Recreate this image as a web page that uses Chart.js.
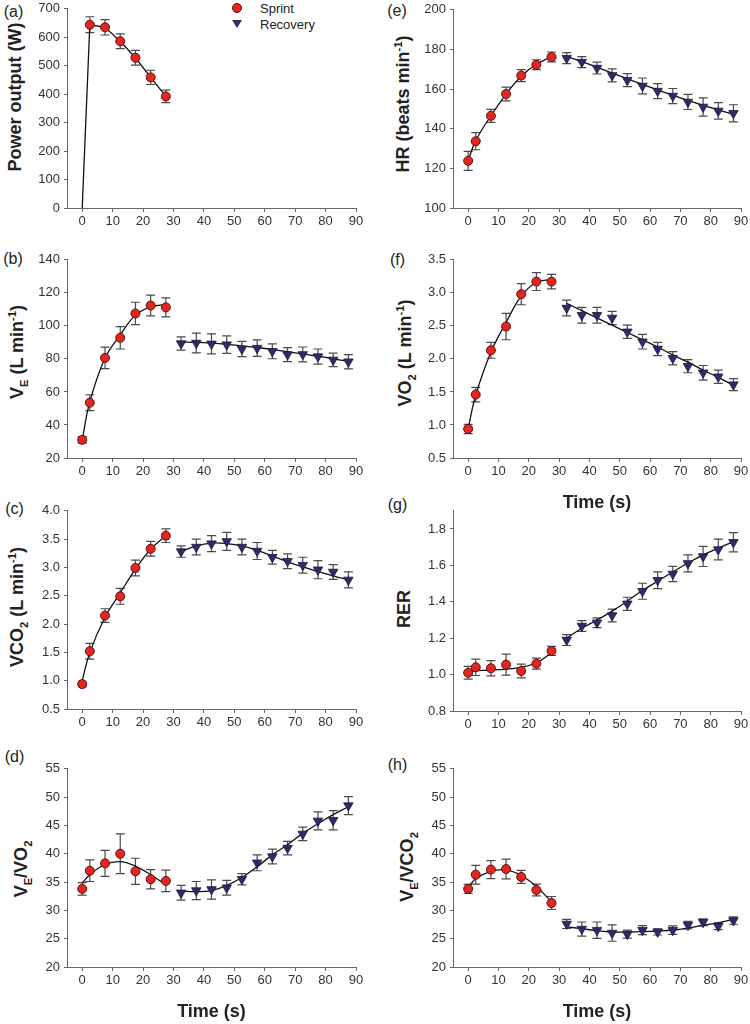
<!DOCTYPE html>
<html>
<head>
<meta charset="utf-8">
<title>Sprint and recovery responses</title>
<script src="https://cdn.jsdelivr.net/npm/chart.js@4.4.0/dist/chart.umd.min.js"></script>
<style>
  body { margin: 0; background: #fff; }
  #page { position: relative; width: 750px; height: 1024px; overflow: hidden;
          font-family: "Liberation Sans", Arial, sans-serif; color: #222; }
  #page canvas { position: absolute; }
  .ytitle { position: absolute; font-weight: bold; font-size: 18px; white-space: nowrap; line-height: 1;
            transform: translate(-50%, -50%) rotate(-90deg); }
  .ytitle sub, .ytitle sup { font-size: 62%; line-height: 0; }
  .tag { position: absolute; font-size: 16px; line-height: 1; transform: translate(-50%, -50%); }
  .key { position: absolute; font-size: 13px; line-height: 15px; }
  .dot { position: absolute; width: 8px; height: 8px; border-radius: 50%; background: #e3261f; border: 1px solid #5c1010; }
  .tri { position: absolute; width: 0; height: 0; border-left: 5px solid transparent;
         border-right: 5px solid transparent; border-top: 8px solid #2b2c6b; }
</style>
</head>
<body>
<div id="page">
  <div class="tag" style="left:13.5px; top:11.5px">(a)</div>
  <div class="tag" style="left:13px; top:258.5px">(b)</div>
  <div class="tag" style="left:14.5px; top:508.5px">(c)</div>
  <div class="tag" style="left:14.5px; top:756.5px">(d)</div>
  <div class="tag" style="left:397px; top:10.5px">(e)</div>
  <div class="tag" style="left:397.5px; top:260px">(f)</div>
  <div class="tag" style="left:397.5px; top:505px">(g)</div>
  <div class="tag" style="left:397.5px; top:764.5px">(h)</div>

  <div class="ytitle" style="left:15px; top:97px">Power output (W)</div>
  <div class="ytitle" style="left:17px; top:352px">V<sub>E</sub> (L min<sup>-1</sup>)</div>
  <div class="ytitle" style="left:17px; top:607px">VCO<sub>2</sub> (L min<sup>-1</sup>)</div>
  <div class="ytitle" style="left:21px; top:869px">V<sub>E</sub>/VO<sub>2</sub></div>
  <div class="ytitle" style="left:403px; top:104px">HR (beats min<sup>-1</sup>)</div>
  <div class="ytitle" style="left:405px; top:353px">VO<sub>2</sub> (L min<sup>-1</sup>)</div>
  <div class="ytitle" style="left:404px; top:609px">RER</div>
  <div class="ytitle" style="left:407px; top:867px">V<sub>E</sub>/VCO<sub>2</sub></div>

  <span class="dot" style="left:232px; top:2.5px"></span>
  <span class="key" style="left:260px; top:0.5px">Sprint</span>
  <span class="tri" style="left:232px; top:20px"></span>
  <span class="key" style="left:260px; top:16.5px">Recovery</span>
</div>

<script>
Chart.defaults.font.family = '"Liberation Sans", Arial, sans-serif';
Chart.defaults.color = '#222';

// time points (s)
const sprintTime = [0, 2.5, 7.5, 12.5, 17.5, 22.5, 27.5];
const recoveryTime = [32.5, 37.5, 42.5, 47.5, 52.5, 57.5, 62.5, 67.5, 72.5, 77.5, 82.5, 87.5];
const timeTicks = [0, 10, 20, 30, 40, 50, 60, 70, 80, 90];

// (a) power output
const powerTime = [2.5, 7.5, 12.5, 17.5, 22.5, 27.5];
const powerMean = [644, 635, 586, 528, 459, 392];
const powerErr = [28, 27, 26, 26, 25, 22];
const powerLineTime = [0, 2.5, 7.5, 12.5, 17.5, 22.5, 27.5];
const powerLine = [0, 644, 635, 586, 528, 459, 392];
const powerTicks = [0, 100, 200, 300, 400, 500, 600, 700];

// (b) VE
const veSprint = [31, 53.5, 80.6, 92.8, 107.5, 112.3, 111.2];
const veSprintErr = [2, 4.8, 6.5, 6.8, 6.8, 6.3, 5.8];
const veRecovery = [89.3, 89.6, 89.1, 88.6, 86.0, 86.5, 84.6, 82.6, 82.7, 81.4, 79.4, 78.3];
const veRecoveryErr = [4, 6, 6, 5.3, 4.6, 5, 4.5, 4.2, 4.5, 4.6, 4.1, 4.3];
const veSprintFit = [31, 54, 80.5, 94.5, 106.5, 111.5, 113];
const veRecoveryFit = [90.3, 90.0, 89.5, 88.8, 87.9, 86.9, 85.7, 84.4, 83.0, 81.6, 80.1, 78.5];
const veTicks = [20, 40, 60, 80, 100, 120, 140];

// (c) VCO2
const vco2Sprint = [0.94, 1.52, 2.15, 2.49, 2.99, 3.33, 3.56];
const vco2SprintErr = [0.05, 0.14, 0.12, 0.14, 0.14, 0.13, 0.12];
const vco2Recovery = [3.28, 3.36, 3.42, 3.46, 3.36, 3.29, 3.18, 3.11, 3.04, 2.96, 2.92, 2.78];
const vco2RecoveryErr = [0.10, 0.14, 0.14, 0.16, 0.14, 0.15, 0.12, 0.13, 0.14, 0.16, 0.13, 0.14];
const vco2SprintFit = [1.0, 1.5, 2.12, 2.55, 2.97, 3.32, 3.56];
const vco2RecoveryFit = [3.28, 3.38, 3.43, 3.42, 3.38, 3.30, 3.20, 3.10, 3.01, 2.93, 2.85, 2.78];
const litreTicks4 = [0.5, 1.0, 1.5, 2.0, 2.5, 3.0, 3.5, 4.0];

// (d) VE/VO2
const veVo2Sprint = [33.8, 37.0, 38.3, 40.0, 36.9, 35.5, 35.2];
const veVo2SprintErr = [1.1, 1.9, 2.3, 3.5, 2.3, 1.7, 1.9];
const veVo2Recovery = [33.1, 33.5, 33.7, 34.0, 35.5, 38.4, 39.5, 41.0, 43.5, 45.8, 45.9, 48.5];
const veVo2RecoveryErr = [1.3, 1.6, 1.7, 1.3, 1.0, 1.4, 1.3, 1.2, 1.2, 1.6, 1.7, 1.6];
const veVo2SprintFit = [34.8, 36.3, 38.1, 38.6, 37.8, 36.3, 34.5];
const veVo2RecoveryFit = [33.4, 33.3, 33.5, 34.4, 35.8, 37.7, 39.8, 41.6, 43.6, 45.3, 46.9, 48.3];
const ratioTicks = [20, 25, 30, 35, 40, 45, 50, 55];

// (e) HR
const hrSprint = [123.8, 133.7, 146.5, 157.5, 166.8, 172.3, 176.2];
const hrSprintErr = [4.8, 4.3, 3.3, 3.5, 3, 2.5, 2.5];
const hrRecovery = [175.6, 173.6, 170.6, 166.9, 164.5, 161.6, 159.0, 156.5, 153.5, 151.0, 149.0, 147.8];
const hrRecoveryErr = [2.8, 2.8, 3, 3.3, 3.3, 4, 3.8, 3.8, 3.8, 4.6, 4.2, 4.3];
const hrSprintFit = [124, 134, 146.5, 157.5, 166.5, 172.5, 176.3];
const hrRecoveryFit = [176.4, 173.8, 171.0, 168.1, 165.2, 162.4, 159.6, 156.9, 154.3, 151.8, 149.5, 147.3];
const hrTicks = [100, 120, 140, 160, 180, 200];

// (f) VO2
const vo2Sprint = [0.94, 1.46, 2.13, 2.49, 2.98, 3.17, 3.17];
const vo2SprintErr = [0.07, 0.11, 0.12, 0.2, 0.16, 0.135, 0.11];
const vo2Recovery = [2.77, 2.66, 2.66, 2.62, 2.41, 2.26, 2.15, 2.01, 1.89, 1.79, 1.73, 1.61];
const vo2RecoveryErr = [0.12, 0.12, 0.12, 0.1, 0.1, 0.11, 0.1, 0.1, 0.1, 0.11, 0.1, 0.09];
const vo2SprintFit = [0.95, 1.45, 2.1, 2.55, 2.95, 3.16, 3.2];
const vo2RecoveryFit = [2.84, 2.73, 2.62, 2.51, 2.40, 2.29, 2.18, 2.06, 1.95, 1.83, 1.72, 1.60];
const litreTicks35 = [0.5, 1.0, 1.5, 2.0, 2.5, 3.0, 3.5];

// (g) RER
const rerSprint = [1.01, 1.04, 1.035, 1.055, 1.02, 1.06, 1.13];
const rerSprintErr = [0.035, 0.045, 0.042, 0.058, 0.038, 0.03, 0.025];
const rerRecovery = [1.19, 1.267, 1.285, 1.325, 1.389, 1.458, 1.518, 1.553, 1.611, 1.649, 1.687, 1.727];
const rerRecoveryErr = [0.03, 0.03, 0.027, 0.035, 0.036, 0.044, 0.046, 0.042, 0.047, 0.055, 0.057, 0.053];
const rerSprintFit = [1.02, 1.022, 1.025, 1.03, 1.04, 1.065, 1.12];
const rerRecoveryFit = [1.20, 1.255, 1.30, 1.349, 1.404, 1.462, 1.513, 1.564, 1.613, 1.658, 1.695, 1.731];
const rerTicks = [0.8, 1.0, 1.2, 1.4, 1.6, 1.8];

// (h) VE/VCO2
const veVco2Sprint = [33.8, 36.3, 37.2, 37.3, 35.9, 33.6, 31.3];
const veVco2SprintErr = [0.8, 1.65, 1.6, 1.75, 1.15, 1.05, 1.15];
const veVco2Recovery = [27.6, 26.7, 26.5, 26.0, 25.8, 26.5, 26.2, 26.5, 27.4, 27.9, 27.2, 28.2];
const veVco2RecoveryErr = [0.8, 1.25, 1.45, 1.45, 0.7, 0.8, 0.55, 0.75, 0.65, 0.6, 0.6, 0.65];
const veVco2SprintFit = [34.1, 35.6, 36.9, 37.15, 36.15, 34.2, 31.5];
const veVco2RecoveryFit = [27.1, 26.76, 26.41, 26.18, 26.18, 26.24, 26.35, 26.53, 26.88, 27.35, 27.81, 28.4];

// layout
const LEFT_COL = { left: 67, right: 356 };
const RIGHT_COL = { left: 453, right: 741 };
const Y_AXIS_W = 45, PAD_T = 10, PAD_R = 14, PAD_B = 2;
const RED = '#e3261f', RED_EDGE = '#5c1010', NAVY = '#2b2c6b';

// error bars, drawn under the markers
const errorBars = {
  id: 'errorBars',
  beforeDatasetsDraw(chart) {
    const { ctx, scales: { x, y } } = chart;
    ctx.save();
    ctx.strokeStyle = '#4a4a4a';
    ctx.lineWidth = 1.2;
    chart.data.datasets.forEach(ds => {
      if (!ds.errors) return;
      ds.data.forEach((p, i) => {
        const px = x.getPixelForValue(p.x);
        const top = y.getPixelForValue(p.y + ds.errors[i]);
        const bot = y.getPixelForValue(p.y - ds.errors[i]);
        ctx.beginPath();
        ctx.moveTo(px, top); ctx.lineTo(px, bot);
        ctx.moveTo(px - 4.5, top); ctx.lineTo(px + 4.5, top);
        ctx.moveTo(px - 4.5, bot); ctx.lineTo(px + 4.5, bot);
        ctx.stroke();
      });
    });
    ctx.restore();
  }
};

const points = (times, values) => times.map((t, i) => ({ x: t, y: values[i] }));

const panels = [
  { col: LEFT_COL, top: 7, bottom: 208, min: 0, max: 700, ticks: powerTicks, dec: 0,
    sprint: [powerTime, powerMean, powerErr],
    lines: [[powerLineTime, powerLine, 0]] },
  { col: LEFT_COL, top: 258, bottom: 458, min: 20, max: 140, ticks: veTicks, dec: 0,
    sprint: [sprintTime, veSprint, veSprintErr], recovery: [recoveryTime, veRecovery, veRecoveryErr],
    lines: [[sprintTime, veSprintFit], [recoveryTime, veRecoveryFit]] },
  { col: LEFT_COL, top: 509, bottom: 709, min: 0.5, max: 4.0, ticks: litreTicks4, dec: 1,
    sprint: [sprintTime, vco2Sprint, vco2SprintErr], recovery: [recoveryTime, vco2Recovery, vco2RecoveryErr],
    lines: [[sprintTime, vco2SprintFit], [recoveryTime, vco2RecoveryFit]] },
  { col: LEFT_COL, top: 767, bottom: 967, min: 20, max: 55, ticks: ratioTicks, dec: 0, timeTitle: true,
    sprint: [sprintTime, veVo2Sprint, veVo2SprintErr], recovery: [recoveryTime, veVo2Recovery, veVo2RecoveryErr],
    lines: [[sprintTime, veVo2SprintFit], [recoveryTime, veVo2RecoveryFit]] },
  { col: RIGHT_COL, top: 8, bottom: 208, min: 100, max: 200, ticks: hrTicks, dec: 0,
    sprint: [sprintTime, hrSprint, hrSprintErr], recovery: [recoveryTime, hrRecovery, hrRecoveryErr],
    lines: [[sprintTime, hrSprintFit], [recoveryTime, hrRecoveryFit]] },
  { col: RIGHT_COL, top: 258, bottom: 458, min: 0.5, max: 3.5, ticks: litreTicks35, dec: 1, timeTitle: true,
    sprint: [sprintTime, vo2Sprint, vo2SprintErr], recovery: [recoveryTime, vo2Recovery, vo2RecoveryErr],
    lines: [[sprintTime, vo2SprintFit], [recoveryTime, vo2RecoveryFit]] },
  { col: RIGHT_COL, top: 509, bottom: 711, min: 0.8, max: 1.9, ticks: rerTicks, dec: 1,
    sprint: [sprintTime, rerSprint, rerSprintErr], recovery: [recoveryTime, rerRecovery, rerRecoveryErr],
    lines: [[sprintTime, rerSprintFit], [recoveryTime, rerRecoveryFit]] },
  { col: RIGHT_COL, top: 767, bottom: 967, min: 20, max: 55, ticks: ratioTicks, dec: 0, timeTitle: true,
    sprint: [sprintTime, veVco2Sprint, veVco2SprintErr], recovery: [recoveryTime, veVco2Recovery, veVco2RecoveryErr],
    lines: [[sprintTime, veVco2SprintFit], [recoveryTime, veVco2RecoveryFit]] }
];

function makePanel(p) {
  const xAxisH = p.timeTitle ? 56 : 24;
  const canvas = document.createElement('canvas');
  canvas.width = Y_AXIS_W + (p.col.right - p.col.left) + PAD_R;
  canvas.height = PAD_T + (p.bottom - p.top) + xAxisH + PAD_B;
  canvas.style.left = (p.col.left - Y_AXIS_W) + 'px';
  canvas.style.top = (p.top - PAD_T) + 'px';
  canvas.style.width = canvas.width + 'px';
  canvas.style.height = canvas.height + 'px';
  document.getElementById('page').appendChild(canvas);

  const datasets = [];
  if (p.sprint) datasets.push({
    data: points(p.sprint[0], p.sprint[1]), errors: p.sprint[2], showLine: false,
    pointStyle: 'circle', pointRadius: 4.5, pointBackgroundColor: RED,
    pointBorderColor: RED_EDGE, pointBorderWidth: 1
  });
  if (p.recovery) datasets.push({
    data: points(p.recovery[0], p.recovery[1]), errors: p.recovery[2], showLine: false,
    pointStyle: 'triangle', pointRotation: 180, pointRadius: 5.5, pointBackgroundColor: NAVY,
    pointBorderColor: '#1a1a40', pointBorderWidth: 0.8
  });
  p.lines.forEach(l => datasets.push({
    data: points(l[0], l[1]), showLine: true, pointRadius: 0,
    borderColor: '#111', borderWidth: 1.3, tension: l[2] === 0 ? 0 : 0.4, fill: false
  }));

  new Chart(canvas, {
    type: 'scatter',
    data: { datasets },
    plugins: [errorBars],
    options: {
      responsive: false, animation: false, devicePixelRatio: 1, events: [],
      layout: { padding: { top: PAD_T, right: PAD_R, bottom: PAD_B, left: 0 } },
      plugins: { legend: { display: false }, tooltip: { enabled: false } },
      scales: {
        x: {
          type: 'linear', min: -5, max: 90,
          afterBuildTicks: s => { s.ticks = timeTicks.map(v => ({ value: v })); },
          afterFit: s => { s.height = xAxisH; },
          grid: { drawOnChartArea: false, tickLength: 4, color: '#666' },
          border: { color: '#666' },
          ticks: { font: { size: 13 }, color: '#333', padding: 2, autoSkip: false, maxRotation: 0 },
          title: { display: !!p.timeTitle, text: 'Time (s)', font: { size: 18, weight: 'bold' }, color: '#222', padding: 0 }
        },
        y: {
          type: 'linear', min: p.min, max: p.max,
          afterBuildTicks: s => { s.ticks = p.ticks.map(v => ({ value: v })); },
          afterFit: s => { s.width = Y_AXIS_W; },
          grid: { drawOnChartArea: false, tickLength: 3, color: '#666' },
          border: { color: '#666' },
          ticks: { font: { size: 13 }, color: '#333', padding: 4, autoSkip: false, callback: v => v.toFixed(p.dec) }
        }
      }
    }
  });
}

panels.forEach(makePanel);
</script>
</body>
</html>
